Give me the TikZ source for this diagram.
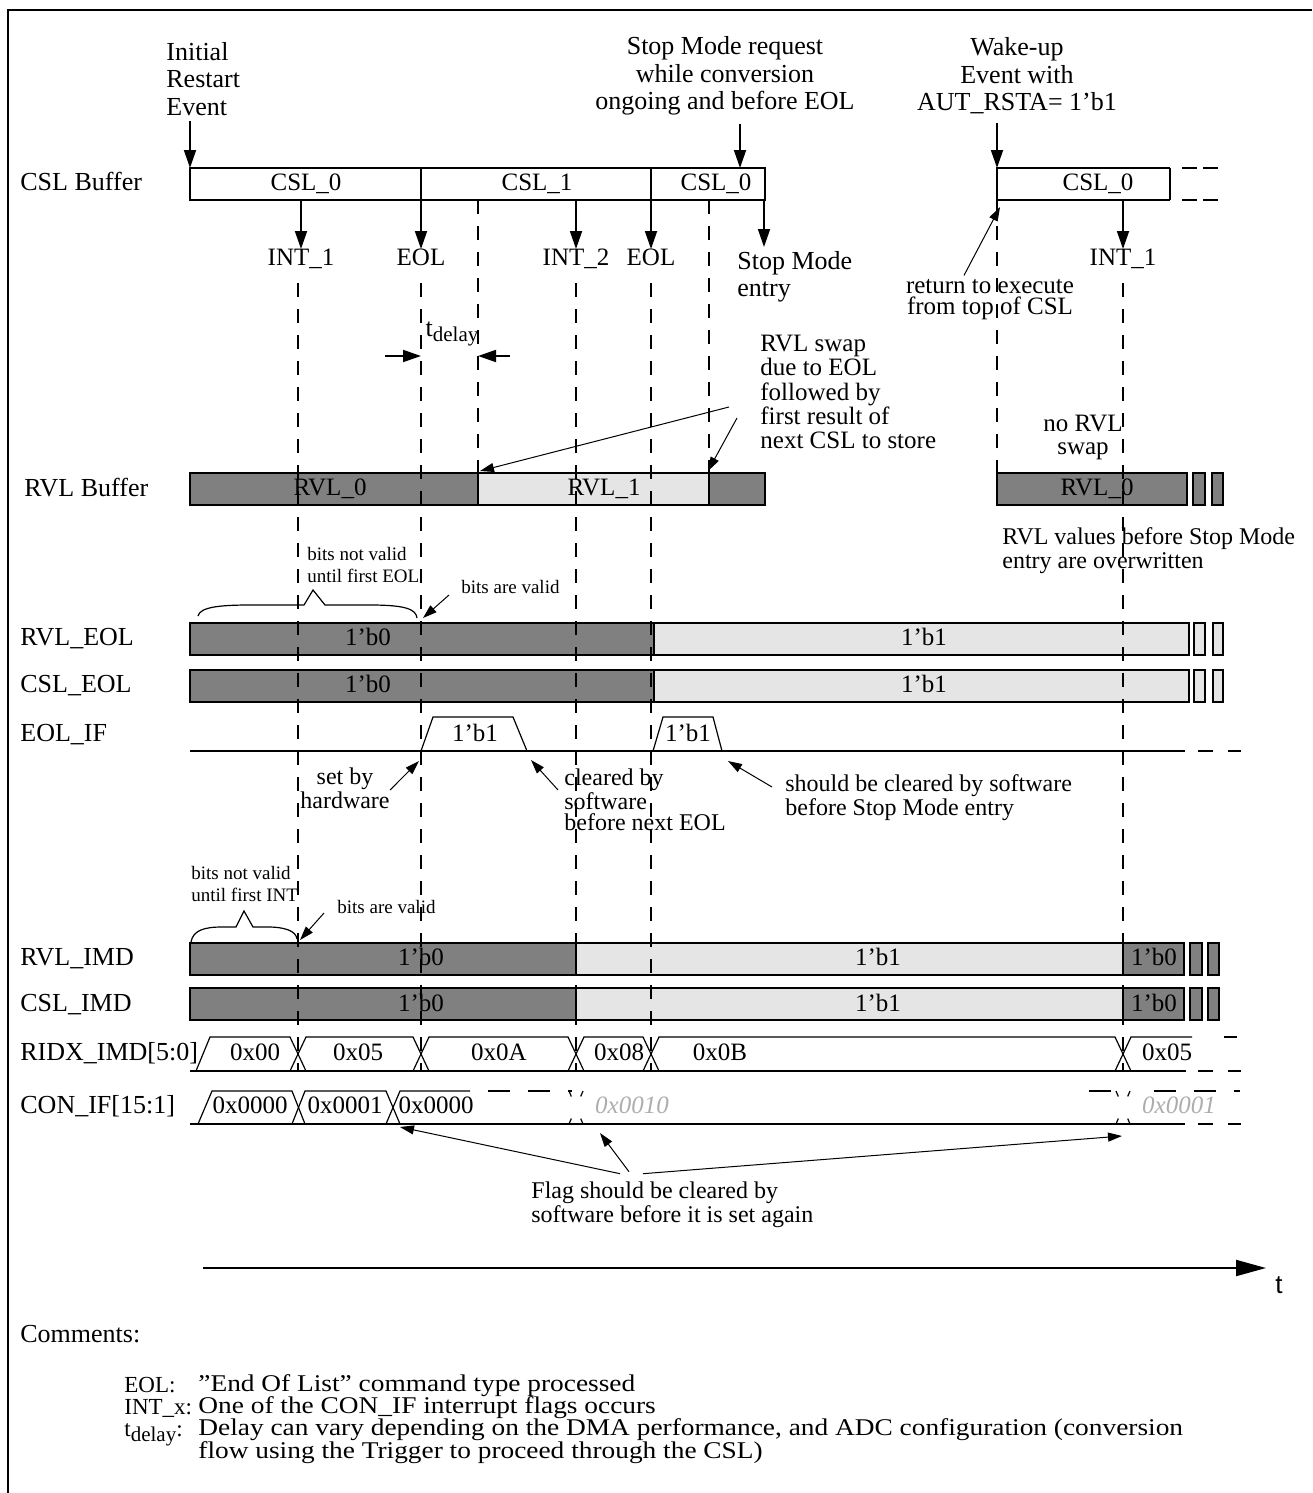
\documentclass[tikz,border=0pt]{standalone}
\usepackage{fontspec}
\setmainfont{Liberation Serif}
\newfontfamily\axisfont{Liberation Sans}
\newfontfamily\cmtfont[FakeStretch=1.14, Ligatures=TeX]{Liberation Serif}
\usetikzlibrary{arrows.meta}

\definecolor{regdark}{gray}{0.5}
\definecolor{reglight}{gray}{0.9}
\definecolor{ghostgray}{gray}{0.68}

\newcommand{\lowidx}[1]{\raisebox{-0.45ex}{\fontsize{10.5}{11}\selectfont #1}}

\tikzset{
    outline/.style={line width=1pt},
    sig/.style={anchor=west, inner sep=0pt, text height=0.66em, text depth=0pt,
        font=\fontsize{13}{14}\selectfont},
    val/.style={inner sep=0pt, text height=0.66em, text depth=0pt,
        font=\fontsize{12.5}{14}\selectfont},
    ghostval/.style={val, text=ghostgray, font=\fontsize{12.5}{14}\selectfont\itshape},
    txt/.style={inner sep=0pt, align=center, font=\fontsize{13}{13.75}\selectfont},
    note/.style={inner sep=0pt, align=left, anchor=west, font=\fontsize{12}{10.5}\selectfont},
    tinynote/.style={inner sep=0pt, align=left, anchor=west, font=\fontsize{9.5}{11.3}\selectfont},
    cmtkey/.style={anchor=west, inner sep=0pt, text height=0.66em, text depth=0pt,
        font=\fontsize{11.5}{14}\selectfont},
    cmttext/.style={anchor=west, inner sep=0pt, align=left, font=\cmtfont\fontsize{12}{11.2}\selectfont},
    seg/.style={draw, line width=0.9pt},
    darkseg/.style={seg, fill=regdark},
    lightseg/.style={seg, fill=reglight},
    guide/.style={line width=1pt, dash pattern=on 7pt off 6pt},
    tailline/.style={line width=0.9pt, dash pattern=on 7.5pt off 7.5pt},
    bustail/.style={line width=0.9pt, dash pattern=on 11pt off 9pt},
    wire/.style={line width=0.9pt},
    busline/.style={line width=0.6pt},
    ghostx/.style={line width=0.6pt, dash pattern=on 3pt off 12pt on 3pt off 3pt},
    evt/.style={-{Triangle[length=9pt,width=6pt]}, line width=0.9pt},
    ptr/.style={-{Triangle[length=7pt,width=4.5pt]}, line width=0.5pt},
    bracepath/.style={line width=0.6pt},
    timeaxis/.style={-{Triangle[length=15pt,width=8pt]}, line width=1pt}
}

\begin{document}
\begin{tikzpicture}[x=0.5pt, y=-0.5pt]
    \useasboundingbox (0,0) rectangle (1312,1493);
    \draw[outline] (8,1493) -- (8,10) -- (1312,10);

    % signal names
    \node[sig] (nCslBuf) at (20,184) {CSL Buffer};
    \node[sig] (nRvlBuf) at (24,490) {RVL Buffer};
    \node[sig] (nRvlEol) at (20,639) {RVL\_EOL};
    \node[sig] (nCslEol) at (20,686) {CSL\_EOL};
    \node[sig] (nEolIf) at (20,735) {EOL\_IF};
    \node[sig] (nRvlImd) at (20,959) {RVL\_IMD};
    \node[sig] (nCslImd) at (20,1005) {CSL\_IMD};
    \node[sig] (nRidx) at (20,1054) {RIDX\_IMD[5:0]};
    \node[sig] (nConIf) at (20,1107) {CON\_IF[15:1]};

    % events above the CSL buffer
    \node[txt, align=left, anchor=west] (restart) at (166,79) {Initial\\Restart\\Event};
    \node[txt] (stopreq) at (725,76) {Stop Mode request\\while conversion\\ongoing and before EOL};
    \node[txt] (wakeup) at (1017,76) {Wake-up\\Event with\\AUT\_RSTA= 1'b1};
    \coordinate (restartin) at (190,168);
    \coordinate (stopin) at (740,168);
    \coordinate (wakein) at (997,168);
    \draw[evt, shorten <=2.5pt] (restart.south -| restartin) -- (restartin);
    \draw[evt, shorten <=4pt] (stopreq.south -| stopin) -- (stopin);
    \draw[evt, shorten <=4pt] (wakeup.south -| wakein) -- (wakein);

    % CSL buffer
    \draw[seg] (190,168) rectangle (765,200);
    \draw[seg] (421,168) -- (421,200) (651,168) -- (651,200);
    \node[val] (csl0) at (306,184) {CSL\_0};
    \node[val] (csl1) at (537,184) {CSL\_1};
    \node[val] (csl0b) at (716,184) {CSL\_0};
    \draw[seg] (997,200) -- (997,168) -- (1170,168) (997,200) -- (1170,200) (1170,168) -- (1170,200);
    \draw[seg, dash pattern=on 7.5pt off 3pt] (1182,168) -- (1218,168) (1182,200) -- (1218,200);
    \node[val] (csl0c) at (1098,184) {CSL\_0};

    % events out of the CSL buffer
    \node[val] (int1) at (301,259) {INT\_1};
    \node[val] (eol1) at (421,259) {EOL};
    \node[val] (int2) at (576,259) {INT\_2};
    \node[val] (eol2) at (651,259) {EOL};
    \node[val] (int1b) at (1123,259) {INT\_1};
    \node[txt, align=left, anchor=north west] (stopentry) at (737,251) {Stop Mode\\entry};
    \foreach \x/\n in {301/int1, 421/eol1, 576/int2, 651/eol2, 1123/int1b}
        \draw[evt, shorten >=1.5pt] (\x,200) -- (\n);
    \coordinate (stopout) at (764,200);
    \draw[evt, shorten >=2pt] (stopout) -- (stopout |- stopentry.north);

    \node[txt, font=\fontsize{12.5}{10.5}\selectfont] (topcsl) at (990,300) {return to execute\\from top of CSL};
    \coordinate (topcslTip) at (1000,207);
    \draw[ptr] ([xshift=-13pt, yshift=2pt]topcsl.north) -- (topcslTip);

    % t_delay
    \coordinate (dlyA) at (421,356);
    \coordinate (dlyB) at (478,356);
    \draw[evt] (385,356) -- (dlyA);
    \draw[evt] (510,356) -- (dlyB);
    \node[inner sep=0pt, font=\fontsize{13}{14}\selectfont] (tdelay) at (452,334) {t\lowidx{delay}};

    % RVL buffer
    \draw[darkseg] (190,473) rectangle (478,505);
    \draw[lightseg] (478,473) rectangle (709,505);
    \draw[darkseg] (709,473) rectangle (765,505);
    \draw[darkseg] (997,473) rectangle (1187,505);
    \draw[darkseg] (1193,473) rectangle (1205,505);
    \draw[darkseg] (1212,473) rectangle (1223,505);
    \node[val] (rvl0) at (330,489) {RVL\_0};
    \node[val] (rvl1) at (604,489) {RVL\_1};
    \node[val] (rvl0b) at (1097,489) {RVL\_0};

    \node[note, font=\fontsize{12.5}{12.2}\selectfont] (swapnote) at (760,392)
        {RVL swap\\due to EOL\\followed by\\first result of\\next CSL to store};
    \coordinate (swapA) at (480,471);
    \coordinate (swapB) at (708,471);
    \draw[ptr] ([xshift=-15.5pt, yshift=-7.5pt]swapnote.west) -- (swapA);
    \draw[ptr] ([xshift=-11.5pt, yshift=-13pt]swapnote.west) -- (swapB);
    \node[txt, font=\fontsize{12.5}{11.5}\selectfont] (noswap) at (1083,437) {no RVL\\swap};
    \node[note, font=\fontsize{12}{12}\selectfont] (overwr) at (1002,551)
        {RVL values before Stop Mode\\entry are overwritten};

    % EOL bits
    \draw[bracepath] (198,616) .. controls (200,607) and (220,605) .. (250,605) -- (304,605)
        -- (313,590) -- (325,605) -- (370,605) .. controls (405,605) and (416,609) .. (417,618);
    \node[tinynote] (nvEol) at (307,565) {bits not valid\\until first EOL};
    \node[tinynote] (vEol) at (461,587) {bits are valid};
    \coordinate (vEolTip) at (423,618);
    \draw[ptr] ([xshift=-6pt, yshift=-4pt]vEol.west) -- (vEolTip);

    \draw[darkseg] (190,623) rectangle (654,655);
    \draw[lightseg] (654,623) rectangle (1189,655);
    \draw[lightseg] (1194,623) rectangle (1205,655);
    \draw[lightseg] (1213,623) rectangle (1223,655);
    \node[val] (rvleol0) at (368,639) {1'b0};
    \node[val] (rvleol1) at (924,639) {1'b1};

    \draw[darkseg] (190,670) rectangle (654,702);
    \draw[lightseg] (654,670) rectangle (1189,702);
    \draw[lightseg] (1194,670) rectangle (1205,702);
    \draw[lightseg] (1213,670) rectangle (1223,702);
    \node[val] (csleol0) at (368,686) {1'b0};
    \node[val] (csleol1) at (924,686) {1'b1};

    % EOL_IF
    \draw[wire] (190,751) -- (1185,751);
    \draw[tailline] (1198,751) -- (1241,751);
    \draw[busline] (421,751) -- (433,717) -- (513,717) -- (527,751);
    \draw[busline] (653,751) -- (663,717) -- (713,717) -- (722,751);
    \node[val] (eolif1) at (475,735) {1'b1};
    \node[val] (eolif2) at (688,735) {1'b1};

    \node[txt, font=\fontsize{12}{10}\selectfont] (sethw) at (345,788) {set by\\hardware};
    \coordinate (sethwTip) at (419,761);
    \draw[ptr] ([yshift=-1pt]sethw.east) -- (sethwTip);
    \node[note] (clrsw) at (564,800) {cleared by\\software\\before next EOL};
    \coordinate (clrswTip) at (531,760);
    \draw[ptr] ([xshift=-3pt, yshift=5pt]clrsw.west) -- (clrswTip);
    \node[note, font=\fontsize{12}{11}\selectfont] (clrstop) at (785,798)
        {should be cleared by software\\before Stop Mode entry};
    \coordinate (clrstopTip) at (728,761);
    \draw[ptr] ([xshift=-6.5pt, yshift=5.5pt]clrstop.west) -- (clrstopTip);

    % IMD bits
    \draw[bracepath] (191,942) .. controls (193,930) and (205,927) .. (222,927) -- (236,927)
        -- (244,911) -- (253,927) -- (268,927) .. controls (285,927) and (296,931) .. (297,939);
    \node[tinynote] (nvImd) at (191,884) {bits not valid\\until first INT};
    \node[tinynote] (vImd) at (337,907) {bits are valid};
    \coordinate (vImdTip) at (300,940);
    \draw[ptr] ([xshift=-6.5pt, yshift=-3pt]vImd.west) -- (vImdTip);

    \draw[darkseg] (190,943) rectangle (576,975);
    \draw[lightseg] (576,943) rectangle (1123,975);
    \draw[darkseg] (1123,943) rectangle (1184,975);
    \draw[darkseg] (1190,943) rectangle (1202,975);
    \draw[darkseg] (1208,943) rectangle (1219,975);
    \node[val] (rvlimd0) at (421,959) {1'b0};
    \node[val] (rvlimd1) at (878,959) {1'b1};
    \node[val] (rvlimd2) at (1154,959) {1'b0};

    \draw[darkseg] (190,988) rectangle (576,1020);
    \draw[lightseg] (576,988) rectangle (1123,1020);
    \draw[darkseg] (1123,988) rectangle (1184,1020);
    \draw[darkseg] (1190,988) rectangle (1202,1020);
    \draw[darkseg] (1208,988) rectangle (1219,1020);
    \node[val] (cslimd0) at (421,1005) {1'b0};
    \node[val] (cslimd1) at (878,1005) {1'b1};
    \node[val] (cslimd2) at (1154,1005) {1'b0};

    % RIDX_IMD[5:0]
    \draw[wire] (190,1071) -- (1186,1071);
    \draw[tailline] (1198,1071) -- (1241,1071);
    \draw[busline] (196,1071) -- (210,1037) -- (290,1037) -- (306,1071);
    \foreach \a/\b in {298/421, 421/576, 576/651, 651/1123}
        \draw[busline] (\a-8,1071) -- (\a+8,1037) -- (\b-8,1037) -- (\b+8,1071);
    \draw[busline] (1115,1071) -- (1131,1037) -- (1192,1037);
    \draw[bustail] (1224,1037) -- (1237,1037);
    \node[val] (ridx0) at (255,1054) {0x00};
    \node[val] (ridx1) at (358,1054) {0x05};
    \node[val] (ridx2) at (499,1054) {0x0A};
    \node[val] (ridx3) at (619,1054) {0x08};
    \node[val] (ridx4) at (720,1054) {0x0B};
    \node[val] (ridx5) at (1167,1054) {0x05};

    % CON_IF[15:1]
    \draw[wire] (190,1124) -- (1185,1124);
    \draw[tailline] (1198,1124) -- (1241,1124);
    \draw[busline] (198,1124) -- (212,1091) -- (292,1091) -- (305,1124);
    \draw[busline] (292,1124) -- (305,1091) -- (386,1091) -- (400,1124);
    \draw[busline] (386,1124) -- (400,1091) -- (470,1091);
    \draw[bustail] (488,1091) -- (572,1091);
    \draw[ghostx] (569,1124) -- (583,1091) (569,1091) -- (583,1124);
    \draw[bustail] (1089,1091) -- (1116,1091);
    \draw[ghostx] (1116,1124) -- (1130,1091) (1116,1091) -- (1130,1124);
    \draw[bustail] (1154,1091) -- (1240,1091);
    \node[val] (conif0) at (250,1107) {0x0000};
    \node[val] (conif1) at (345,1107) {0x0001};
    \node[val] (conif2) at (436,1107) {0x0000};
    \node[ghostval] (conif3) at (632,1107) {0x0010};
    \node[ghostval] (conif4) at (1179,1107) {0x0001};

    \node[note, font=\fontsize{12}{12}\selectfont] (flagnote) at (531,1205)
        {Flag should be cleared by\\software before it is set again};
    \coordinate (flagsrc) at ([yshift=4pt]flagnote.north west);
    \coordinate (flagA) at (400,1127);
    \coordinate (flagB) at (600,1133);
    \coordinate (flagC) at (1122,1136);
    \draw[ptr] ([xshift=44.5pt]flagsrc) -- (flagA);
    \draw[ptr] ([xshift=49pt, yshift=1pt]flagsrc) -- (flagB);
    \draw[ptr] ([xshift=56pt]flagsrc) -- (flagC);

    % guides
    \foreach \x in {298,421,576,651,1123}
        \draw[guide] (\x,283) -- (\x,1071);
    \foreach \x in {478,709,997}
        \draw[guide] (\x,200) -- (\x,473);

    % time axis
    \coordinate (tstart) at (203,1268);
    \coordinate (tend) at (1266,1268);
    \draw[timeaxis] (tstart) -- (tend);
    \node[inner sep=0pt, font=\axisfont\fontsize{13}{14}\selectfont] (tlabel) at (1279,1285) {t};

    % comments
    \node[sig] (comments) at (20,1336) {Comments:};
    \node[cmtkey] (kEol) at (124,1386) {EOL:};
    \node[cmtkey] (kInt) at (124,1408) {INT\_x:};
    \node[cmtkey] (kDly) at (124,1430) {t\lowidx{delay}:};
    \node[cmttext] (vEolTxt) at (198,1386) {''End Of List'' command type processed};
    \node[cmttext] (vInt) at (198,1408) {One of the CON\_IF interrupt flags occurs};
    \node[cmttext] (vDly) at (198,1441)
        {Delay can vary depending on the DMA performance, and ADC configuration (conversion\\flow using the Trigger to proceed through the CSL)};
\end{tikzpicture}
\end{document}
